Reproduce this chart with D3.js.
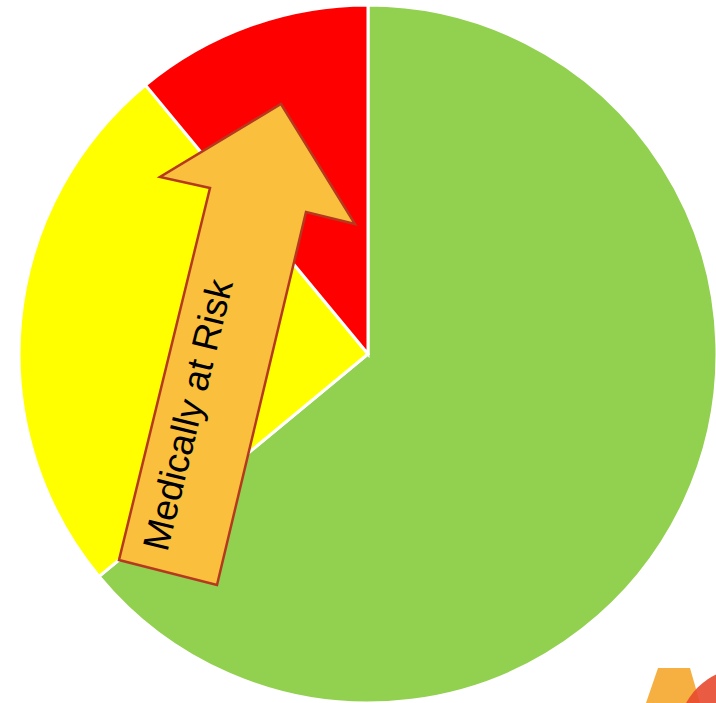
<!DOCTYPE html>
<html>
<head>
<meta charset="utf-8">
<script src="https://cdn.jsdelivr.net/npm/d3@7"></script>
<style>
  html, body { margin: 0; padding: 0; background: #fff; }
  svg { display: block; }
</style>
</head>
<body>
<svg id="chart" width="716" height="703"></svg>
<script>
// Data
const categories = ["Healthy", "At Risk", "Medically at Risk"];
const values = [64, 25, 11];
const colors = ["#92d050", "#ffff00", "#ff0000"];
const annotationText = "Medically at Risk";

const svg = d3.select("#chart");
const cx = 368, cy = 354, radius = 349;

const color = d3.scaleOrdinal().domain(categories).range(colors);
const pie = d3.pie().sort(null).value(d => d.value);
const arc = d3.arc().innerRadius(0).outerRadius(radius);

const data = categories.map((c, i) => ({ cat: c, value: values[i] }));

const g = svg.append("g").attr("transform", `translate(${cx},${cy})`);
g.selectAll("path.slice")
  .data(pie(data))
  .join("path")
  .attr("class", "slice")
  .attr("d", arc)
  .attr("fill", d => color(d.data.cat))
  .attr("stroke", "#fff")
  .attr("stroke-width", 3)
  .attr("stroke-linejoin", "miter");

// Arrow annotation (decorative callout)
const arrowPts = [[119, 560], [210, 188], [160, 177], [281, 104], [355, 224], [306, 212], [217, 585]];
svg.append("path")
  .attr("d", d3.line()(arrowPts) + "Z")
  .attr("fill", "#f9bf3d")
  .attr("stroke", "#b5391f")
  .attr("stroke-width", 2.5)
  .attr("stroke-linejoin", "miter");

svg.append("text")
  .attr("transform", "translate(188,415) rotate(-76.3)")
  .attr("text-anchor", "middle")
  .attr("dominant-baseline", "central")
  .attr("font-family", "Liberation Sans, Arial, sans-serif")
  .attr("font-size", 37)
  .attr("fill", "#000")
  .text(annotationText);

// Partial logo at bottom right corner
const logo = svg.append("g");
logo.append("path")
  .attr("d", "M646,703 L658,668 L690,668 L700,703 Z")
  .attr("fill", "#f6b042");
logo.append("circle")
  .attr("cx", 745).attr("cy", 735).attr("r", 67)
  .attr("fill", "#e8492f")
  .attr("opacity", 0.9);
</script>
</body>
</html>
